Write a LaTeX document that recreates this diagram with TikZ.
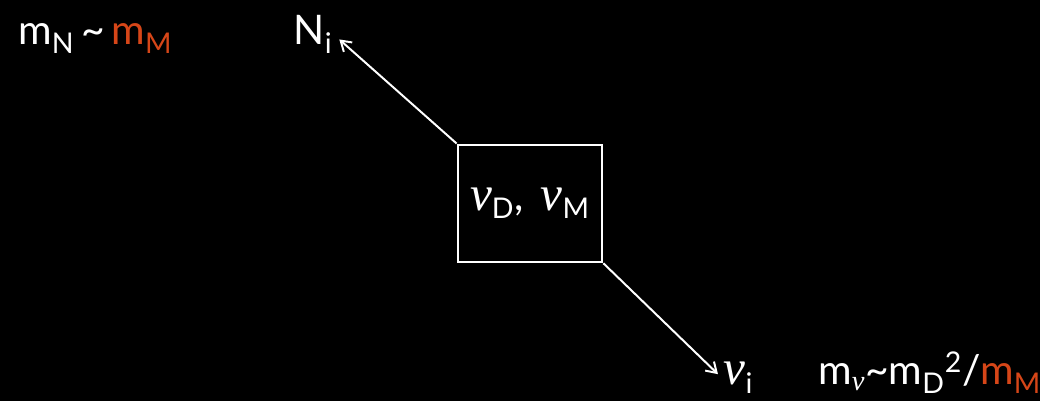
\documentclass[tikz,border=0pt]{standalone}
\usepackage{fontspec}
\setmainfont{Lato}
\newfontfamily\nufont{Liberation Serif}
\usetikzlibrary{positioning,arrows.meta}
\definecolor{massred}{RGB}{214,70,24}
\newcommand{\nusym}{{\nufont\itshape ν}}
\newcommand{\nubig}{{\nufont\itshape\fontsize{35}{34}\selectfont ν}}

\begin{document}
\begin{tikzpicture}[font=\fontsize{29}{34}\selectfont, every node/.style={text=white},
  >={Straight Barb[length=7pt,width=9pt]}]
  % background
  \fill[black] (0,0) rectangle (26,10.025);
  \useasboundingbox (0,0) rectangle (26,10.025);
  % mixing box
  \node[draw=white, line width=1.9pt, minimum width=3.6cm, minimum height=2.925cm] (mix) at (13.25,4.94) {\nubig\textsubscript{D},\, \nubig\textsubscript{M}};
  % light and heavy states
  \node[anchor=base west, inner sep=1pt] (heavy) at (7.3,8.9) {N\textsubscript{i}};
  \node[anchor=base west, inner sep=1pt] (light) at (18.05,0.4) {\nubig\textsubscript{i}};
  % mass relations
  \node[anchor=base west, inner sep=0pt] (mN) at (0.45,8.9) {m\textsubscript{N}\,\textasciitilde\,\textcolor{massred}{m\textsubscript{M}}};
  \node[anchor=base west, inner sep=0pt] (mnu) at (20.45,0.4) {m\textsubscript{\nusym}\textasciitilde m\textsubscript{D}\textsuperscript{2}/\textcolor{massred}{m\textsubscript{M}}};

  % Connections
  \draw[->, white, line width=1.4pt, shorten >=5pt] (mix.north west) -- (heavy.east);
  \draw[->, white, line width=1.4pt, shorten >=4pt] (mix.south east) -- (light.west);
\end{tikzpicture}
\end{document}
